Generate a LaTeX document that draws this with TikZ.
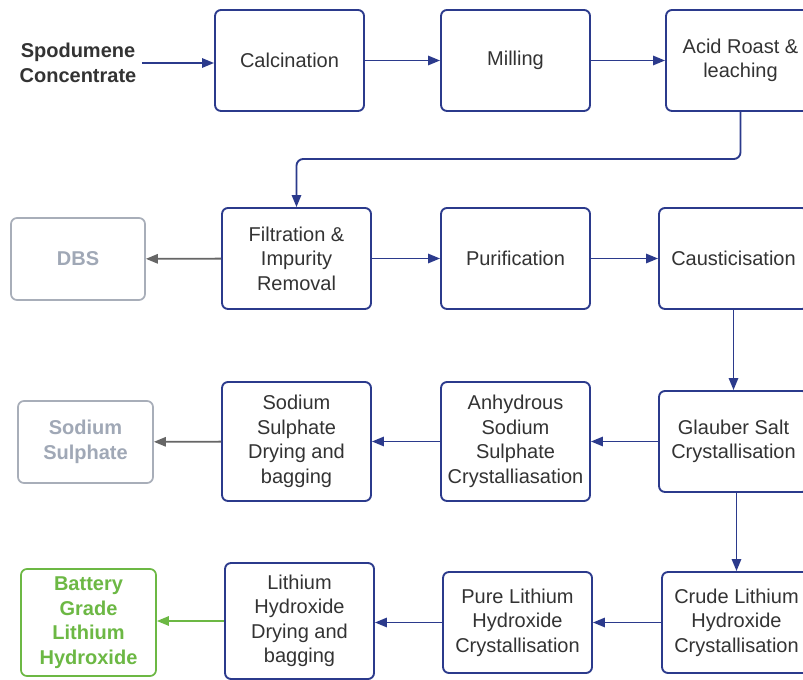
\documentclass[tikz,border=0pt]{standalone}
\usepackage{fontspec}
\setmainfont{Liberation Sans}
\usetikzlibrary{arrows.meta}
\definecolor{navy}{HTML}{2B3A8C}
\definecolor{txt}{HTML}{333333}
\definecolor{grayb}{HTML}{A8AEB9}
\definecolor{grayt}{HTML}{A0A8B6}
\definecolor{graya}{HTML}{666666}
\definecolor{grn}{HTML}{6CB844}
\tikzset{
  px/.style={x=0.75pt,y=-0.75pt},
  box/.style={draw=navy, line width=1.4pt, rounded corners=4.5pt, text=txt, align=center,
    font=\fontsize{15pt}{18.4pt}\selectfont, inner sep=0pt},
  gbox/.style={draw=grayb, line width=1.3pt, rounded corners=4.5pt, text=grayt, align=center,
    font=\fontsize{15pt}{18.4pt}\selectfont\bfseries, inner sep=0pt},
  greenbox/.style={draw=grn, line width=1.3pt, rounded corners=4.5pt, text=grn, align=center,
    font=\fontsize{15pt}{18.4pt}\selectfont\bfseries, inner sep=0pt},
  std/.style={minimum width=111.75pt, minimum height=75.75pt},
  arr/.style={draw=navy, line width=1.4pt, -{Triangle[length=9pt,width=7pt]}},
  garr/.style={draw=graya, line width=1.4pt, -{Triangle[length=9pt,width=7pt]}},
  grarr/.style={draw=grn, line width=1.4pt, -{Triangle[length=9pt,width=7pt]}},
}
\begin{document}
\begin{tikzpicture}[px]
\useasboundingbox (0,0) rectangle (803,680);
\fill[white] (0,0) rectangle (803,680);
\begin{scope}
\clip (0,0) rectangle (803,680);
% row 1
\node[text=txt, font=\fontsize{15pt}{18.4pt}\selectfont\bfseries, align=center, inner sep=4pt] (spod) at (78,63) {Spodumene\\Concentrate};
\node[box, std] (calc) at (289.5,60.5) {Calcination};
\node[box, std] (mill) at (515.5,60.5) {Milling};
\node[box, std] (acid) at (740.5,60.5) {Acid Roast \&\\leaching};
% row 2
\node[gbox, minimum width=100.5pt, minimum height=61.5pt] (dbs) at (78,259) {DBS};
\node[box, std] (filt) at (296.5,258.5) {Filtration \&\\Impurity\\Removal};
\node[box, std] (puri) at (515.5,258.5) {Purification};
\node[box, std] (caus) at (733.5,258.5) {Causticisation};
% row 3
\node[gbox, minimum width=101.25pt, minimum height=61.5pt] (sods) at (85.5,442) {Sodium\\Sulphate};
\node[box, minimum width=111.75pt, minimum height=89.25pt] (sodd) at (296.5,441.5) {Sodium\\Sulphate\\Drying and\\bagging};
\node[box, minimum width=111.75pt, minimum height=89.25pt] (anhy) at (515.5,441.5) {Anhydrous\\Sodium\\Sulphate\\Crystalliasation};
\node[box, std] (glau) at (733.5,441.5) {Glauber Salt\\Crystallisation};
% row 4
\node[greenbox, minimum width=101.25pt, minimum height=80.25pt] (batt) at (88.5,622.5) {Battery\\Grade\\Lithium\\Hydroxide};
\node[box, minimum width=111.75pt, minimum height=87pt] (lihd) at (299.5,621) {Lithium\\Hydroxide\\Drying and\\bagging};
\node[box, std] (pure) at (517.5,622.5) {Pure Lithium\\Hydroxide\\Crystallisation};
\node[box, std] (crud) at (736.5,622.5) {Crude Lithium\\Hydroxide\\Crystallisation};
\coordinate (turn) at (0,159);
% connectors
\draw[arr] (spod.east) -- (spod.east -| calc.west);
\draw[arr] (calc) -- (mill);
\draw[arr] (mill) -- (acid);
\draw[arr, rounded corners=5pt] (acid.south) -- (acid.south |- turn) -- (filt.north |- turn) -- (filt.north);
\draw[garr] (filt) -- (dbs);
\draw[arr] (filt) -- (puri);
\draw[arr] (puri) -- (caus);
\draw[arr] (caus) -- (glau);
\draw[arr] (glau) -- (anhy);
\draw[arr] (anhy) -- (sodd);
\draw[garr] (sodd) -- (sods);
\draw[arr] (crud.north |- glau.south) -- (crud.north);
\draw[arr] (crud.west) -- (crud.west -| pure.east);
\draw[arr] (pure.west) -- (pure.west -| lihd.east);
\draw[grarr] (lihd.west) -- (lihd.west -| batt.east);
\end{scope}
\end{tikzpicture}
\end{document}
